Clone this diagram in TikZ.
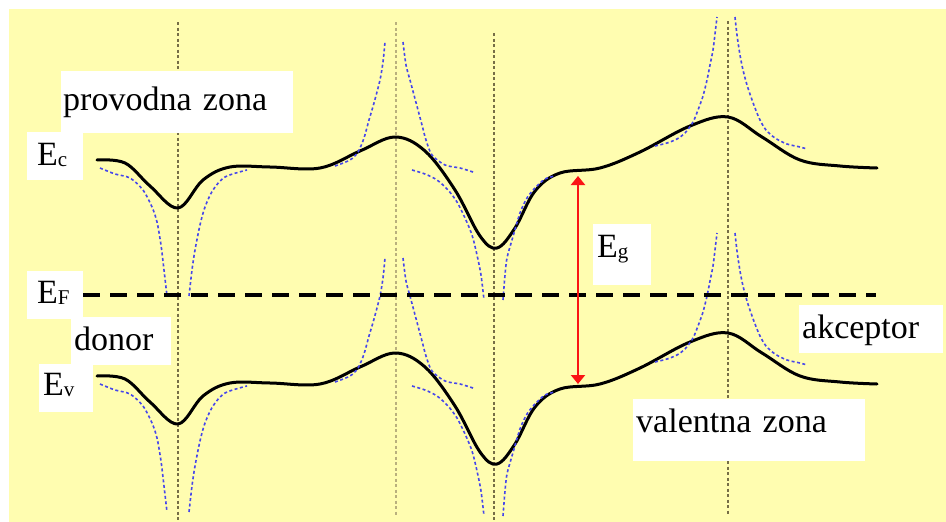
\documentclass[tikz,border=0pt]{standalone}
\usepackage{fontspec}
\setmainfont{Liberation Serif}
\usetikzlibrary{arrows.meta}

\definecolor{bgyellow}{RGB}{255,253,176}
\definecolor{lorentz}{RGB}{70,70,235}
\definecolor{guide}{RGB}{118,110,70}
\definecolor{guidelt}{RGB}{185,176,125}
\definecolor{gapred}{RGB}{250,20,20}

% small lowered index for the band energies
\newcommand\subtxt[1]{\raisebox{-1.5pt}{\fontsize{21}{21}\selectfont #1}}

% one band edge with its impurity spikes (drawn at the conduction band height)
\newcommand\drawband{%
	\draw[band] plot[smooth, tension=0.6] coordinates {(97,160) (125,163) (150,186) (178,208) (203,180) (230,167) (270,167) (320,168) (360,151) (395,137) (425,151) (455,190) (480,236) (497,248) (515,228) (535,191) (560,173) (600,168) (640,152) (690,126) (728,117) (762,137) (800,160) (840,166) (877,168)};
	% donor
	\draw[lor] plot[smooth] coordinates {(100,168) (115,174) (130,178) (143,190) (152,207) (157,222) (161,245) (164,270) (167,296)};
	\draw[lor] plot[smooth] coordinates {(189,296) (192,270) (195,250) (200,225) (205,207) (213,190) (225,177) (247,170)};
	% peak
	\draw[lor] plot[smooth] coordinates {(335,166) (350,160) (358,152) (364,138) (369,120) (374,103) (380,80) (383,62) (385,42)};
	\draw[lor] plot[smooth] coordinates {(403,42) (406,65) (410,80) (414,95) (418,110) (422,125) (426,140) (432,155) (445,165) (460,168) (473,172)};
	% dip
	\draw[lor] plot[smooth] coordinates {(412,170) (425,174) (437,180) (448,190) (457,202) (465,218) (472,235) (477,255) (481,275) (484,300)};
	\draw[lor] plot[smooth] coordinates {(503,300) (505,275) (507,258) (512,240) (520,213) (527,198) (535,188) (545,179) (555,176)};
	% acceptor
	\draw[lor] plot[smooth] coordinates {(655,146) (667,143) (677,139) (685,133) (693,122) (698,110) (703,96) (707,80) (710,65) (713,50) (715,34) (717,17)};
	\draw[lor] plot[smooth] coordinates {(735,17) (737,35) (740,55) (743,70) (747,85) (751,97) (755,108) (760,120) (766,130) (775,138) (787,144) (800,147) (807,149)};
}

\begin{document}
\begin{tikzpicture}[x=1pt, y=-1pt,
		band/.style={line width=3pt, line cap=round, line join=round},
		lor/.style={lorentz, line width=1.6pt, dash pattern=on 3pt off 2.5pt},
		vline/.style={guide, line width=2.6pt, dash pattern=on 3pt off 2.5pt},
		fermi/.style={line width=3.8pt, dash pattern=on 17pt off 10pt},
		gaparrow/.style={gapred, line width=2.5pt, {Triangle[length=9pt,width=14pt]}-{Triangle[length=9pt,width=14pt]}},
		lbl/.style={fill=white, inner ysep=0pt, anchor=base west, align=left, font=\fontsize{34}{36}\selectfont}]
	\useasboundingbox (0,0) rectangle (946,522);
	\fill[bgyellow] (9,9) rectangle (946,522);
	
	% ==================== impurity positions ====================
	\draw[vline] (178,22) -- (178,520);
	\draw[vline, guidelt] (396,22) -- (396,515);
	\draw[vline] (494,33) -- (494,520);
	\draw[vline] (728,21) -- (728,515);
	
	% ==================== bands ====================
	\drawband
	\begin{scope}[yshift=-216pt]
		\drawband
	\end{scope}
	
	% ==================== labels ====================
	\node[lbl, inner xsep=2pt, text width=228pt, text height=39pt, text depth=23pt] (cband) at (61,110) {provodna zona};
	\node[lbl, inner xsep=10pt, text width=36pt, text height=33pt, text depth=15pt] (Ec) at (27,165) {E\subtxt{c}};
	\node[lbl, inner xsep=10pt, text width=36pt, text height=32pt, text depth=16pt] (EF) at (27,303) {E\subtxt{F}};
	\node[lbl, inner xsep=3pt, text width=94pt, text height=33pt, text depth=15pt] (donor) at (71,350) {donor};
	\node[lbl, inner xsep=4pt, text width=46pt, text height=31pt, text depth=17pt] (Ev) at (39,395) {E\subtxt{v}};
	\node[lbl, inner xsep=4pt, text width=50pt, text height=33pt, text depth=28pt] (Eg) at (593,257) {E\subtxt{g}};
	\node[lbl, inner xsep=3pt, text width=138pt, text height=33pt, text depth=15pt] (akc) at (799,338) {akceptor};
	\node[lbl, inner xsep=3pt, text width=226pt, text height=33pt, text depth=29pt] (vband) at (633,432) {valentna zona};
	
	% Fermi level
	\coordinate (fend) at (876,296);
	\draw[fermi] (EF.east) -- (EF.east -| fend);
	
	% band gap
	\coordinate (gtop) at (578,176);
	\coordinate (gbot) at (578,384);
	\draw[gaparrow] (gtop) -- (gbot);
\end{tikzpicture}
\end{document}
